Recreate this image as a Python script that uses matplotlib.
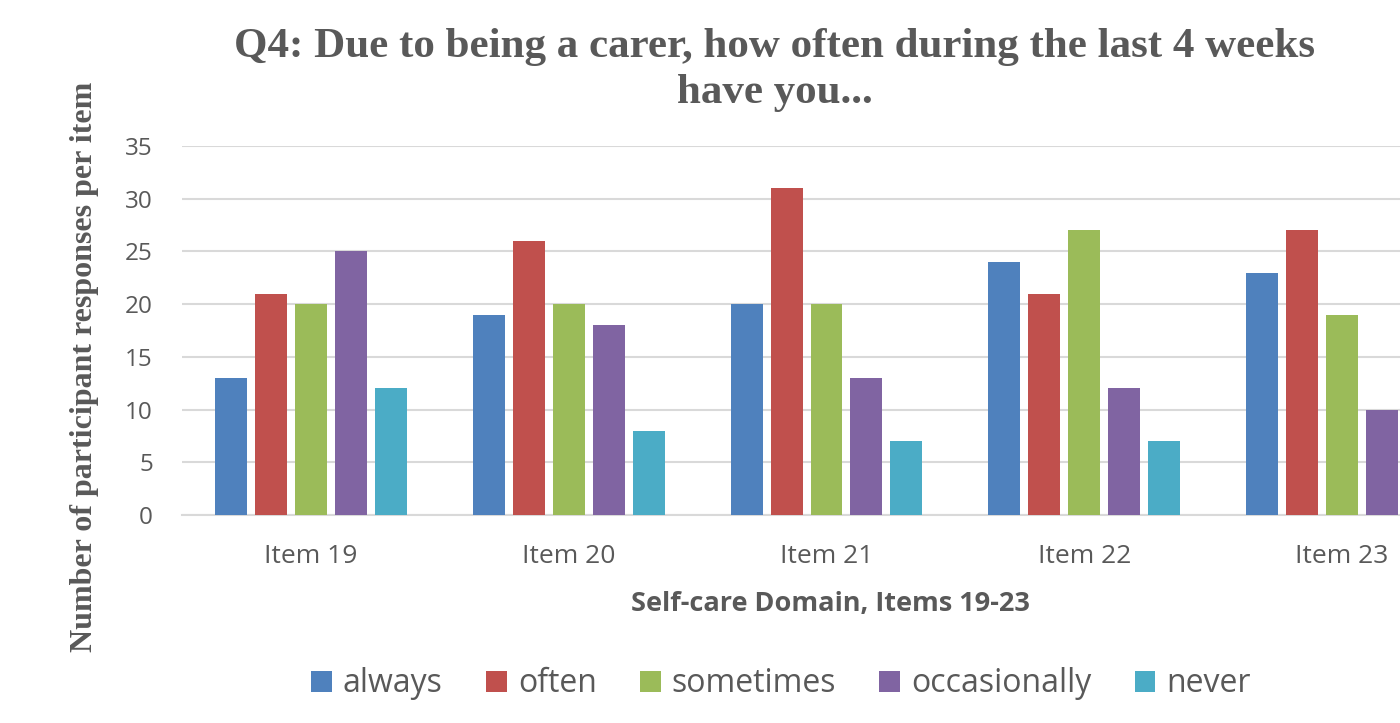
import matplotlib
matplotlib.use("Agg")
import matplotlib.pyplot as plt
import numpy as np

items = ["Item 19", "Item 20", "Item 21", "Item 22", "Item 23"]
responses = ["always", "often", "sometimes", "occasionally", "never"]
always = [13, 19, 20, 24, 23]
often = [21, 26, 31, 21, 27]
sometimes = [20, 20, 20, 27, 19]
occasionally = [25, 18, 13, 12, 10]
never = [12, 8, 7, 7, 12]
colors = ["#4F81BD", "#C0504D", "#9BBB59", "#8064A2", "#4BACC6"]

text_grey = "#595959"
W, H = 1400, 723

fig = plt.figure(figsize=(W / 100, H / 100), dpi=100)
# plot area runs past the right edge of the figure, like the cropped export
ax = fig.add_axes([182 / W, (H - 515) / H, (1471 - 182) / W, (515 - 146) / H])

x = np.arange(len(items))
step = 0.155
width = 0.124
series = [always, often, sometimes, occasionally, never]
for i, (vals, name) in enumerate(zip(series, responses)):
    ax.bar(x + (i - 2) * step, vals, width, color=colors[i], label=name, zorder=3)

ax.set_xlim(-0.5, len(items) - 0.5)
ax.set_ylim(0, 35)
ax.set_yticks(range(0, 36, 5))
ax.set_xticks(x)
ax.set_xticklabels(items)
ax.grid(axis="y", color="#D9D9D9", linewidth=1.5, zorder=0)
for s in ["top", "right", "left"]:
    ax.spines[s].set_visible(False)
ax.spines["bottom"].set_color("#D9D9D9")
ax.spines["bottom"].set_linewidth(1.5)
ax.tick_params(length=0, labelcolor=text_grey)
for lab in ax.get_xticklabels() + ax.get_yticklabels():
    lab.set_fontfamily("Open Sans")
ax.tick_params(axis="y", pad=21, labelsize=17.5)
ax.tick_params(axis="x", pad=21, labelsize=19)

fig.text(830 / W, 1 - 604 / H, "Self-care Domain, Items 19-23", ha="center", va="center",
         fontsize=19.5, fontweight="bold", family="Open Sans", color=text_grey)

fig.text(775 / W, 1 - 70 / H, "Q4: Due to being a carer, how often during the last 4 weeks\nhave you...",
         ha="center", va="center", fontsize=31, fontweight="bold", family="Liberation Serif",
         color=text_grey, linespacing=1.25)

fig.text(85 / W, 1 - 367 / H, "Number of participant responses per item", rotation=90,
         ha="center", va="center", fontsize=23, fontweight="bold", family="Liberation Serif",
         color=text_grey)

leg = fig.legend(loc="center", bbox_to_anchor=(781 / W, 1 - 684 / H), ncol=5, frameon=False,
                 prop={"family": "Open Sans", "size": 23}, handlelength=0.65, handleheight=0.65,
                 handletextpad=0.35, columnspacing=1.35, labelcolor=text_grey)

fig.savefig("out.png", dpi=100)
